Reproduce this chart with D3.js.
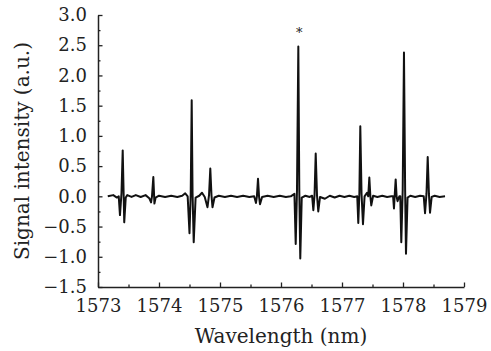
<!DOCTYPE html>
<html>
<head>
<meta charset="utf-8">
<script src="https://cdn.jsdelivr.net/npm/d3@7"></script>
<style>
  body { margin: 0; background: #fff; }
  svg text { font-family: "DejaVu Serif", serif; fill: #222; }
</style>
</head>
<body>
<div id="chart"></div>
<script>
// wavelength (nm) of each traced point
const wavelength = [
  1573.16, 1573.25, 1573.31, 1573.34, 1573.36, 1573.385, 1573.405, 1573.42, 1573.43, 1573.455,
  1573.48, 1573.55, 1573.62, 1573.70, 1573.78, 1573.84, 1573.87, 1573.885, 1573.907, 1573.925,
  1573.945, 1574.00, 1574.10, 1574.20, 1574.30, 1574.38, 1574.43, 1574.47, 1574.50, 1574.52,
  1574.536, 1574.55, 1574.569, 1574.60, 1574.66, 1574.705, 1574.75, 1574.795, 1574.82, 1574.841,
  1574.86, 1574.877, 1574.91, 1574.98, 1575.08, 1575.18, 1575.28, 1575.38, 1575.48, 1575.56,
  1575.59, 1575.605, 1575.623, 1575.64, 1575.656, 1575.69, 1575.78, 1575.88, 1575.98, 1576.08,
  1576.16, 1576.22, 1576.241, 1576.262, 1576.284, 1576.30, 1576.316, 1576.34, 1576.40, 1576.47,
  1576.51, 1576.53, 1576.55, 1576.569, 1576.59, 1576.611, 1576.64, 1576.72, 1576.80, 1576.88,
  1576.96, 1577.04, 1577.12, 1577.20, 1577.25, 1577.267, 1577.285, 1577.30, 1577.32, 1577.344,
  1577.37, 1577.41, 1577.43, 1577.448, 1577.465, 1577.48, 1577.51, 1577.58, 1577.66, 1577.74,
  1577.81, 1577.838, 1577.852, 1577.866, 1577.88, 1577.895, 1577.91, 1577.94, 1577.955, 1577.972,
  1577.995, 1578.016, 1578.035, 1578.049, 1578.075, 1578.12, 1578.20, 1578.28, 1578.34, 1578.361,
  1578.385, 1578.405, 1578.425, 1578.443, 1578.47, 1578.52, 1578.60, 1578.689
];
// signal intensity (a.u.) at each point
const intensity = [
  0.00, 0.02, -0.02, 0.00, -0.31, 0.05, 0.76, 0.05, -0.43, -0.02,
  0.02, -0.01, 0.02, -0.01, 0.02, -0.03, -0.10, 0.00, 0.32, -0.12,
  -0.02, 0.01, -0.01, 0.01, -0.01, 0.01, 0.05, 0.00, -0.61, 0.05,
  1.59, 0.05, -0.76, -0.02, 0.01, 0.06, -0.01, -0.18, 0.02, 0.46,
  0.02, -0.18, -0.02, 0.01, -0.01, 0.01, -0.01, 0.01, -0.01, 0.00,
  -0.11, 0.00, 0.29, 0.00, -0.13, -0.01, 0.01, -0.01, 0.01, -0.01,
  0.00, 0.04, -0.79, 0.10, 2.48, 0.10, -1.03, -0.02, 0.01, -0.01,
  0.01, -0.23, 0.02, 0.71, 0.02, -0.25, -0.01, -0.04, 0.01, -0.02,
  0.01, -0.01, 0.01, -0.01, 0.00, -0.44, 0.05, 1.16, 0.05, -0.46,
  0.00, 0.06, 0.00, 0.31, 0.00, -0.15, 0.01, -0.01, 0.01, -0.01,
  0.00, 0.00, -0.20, 0.05, 0.28, 0.00, -0.08, 0.00, 0.00, -0.76,
  0.10, 2.38, 0.10, -0.95, -0.02, 0.01, -0.01, 0.01, 0.00, -0.28,
  0.04, 0.65, 0.04, -0.27, -0.01, 0.01, -0.01, 0.00
];
const xTicks = [1573, 1574, 1575, 1576, 1577, 1578, 1579];
const xMinorTicks = [1573.5, 1574.5, 1575.5, 1576.5, 1577.5, 1578.5];
const yTicks = [-1.5, -1.0, -0.5, 0.0, 0.5, 1.0, 1.5, 2.0, 2.5, 3.0];
const yMinorTicks = [-1.25, -0.75, -0.25, 0.25, 0.75, 1.25, 1.75, 2.25, 2.75];
const markedPeak = 1576.284;

const data = wavelength.map((w, i) => ({ w: w, v: intensity[i] }));

const margin = { top: 15, right: 27, bottom: 64, left: 98 };
const width = 491 - margin.left - margin.right;
const height = 351 - margin.top - margin.bottom;

const svg = d3.select("#chart").append("svg")
    .attr("width", 491)
    .attr("height", 351)
    .append("g")
    .attr("transform", `translate(${margin.left},${margin.top})`);

const x = d3.scaleLinear().domain([1573, 1579]).range([0, width]);
const y = d3.scaleLinear().domain([-1.5, 3.0]).range([height, 0]);

// minor ticks
svg.append("g")
    .attr("transform", `translate(0,${height})`)
    .call(d3.axisBottom(x).tickValues(xMinorTicks).tickSize(-2.5).tickFormat(""))
    .call(g => g.select(".domain").remove());
svg.append("g")
    .call(d3.axisLeft(y).tickValues(yMinorTicks).tickSize(-2.5).tickFormat(""))
    .call(g => g.select(".domain").remove());

const xAxis = svg.append("g")
    .attr("transform", `translate(0,${height})`)
    .call(d3.axisBottom(x).tickValues(xTicks).tickSize(-4.5).tickSizeOuter(0).tickPadding(12).tickFormat(d3.format("d")));
xAxis.selectAll("text").style("font-size", "18px");

const yAxis = svg.append("g")
    .call(d3.axisLeft(y).tickValues(yTicks).tickSize(-4.5).tickSizeOuter(0).tickPadding(11).tickFormat(d3.format(".1f")));
yAxis.selectAll("text").style("font-size", "18px");

svg.selectAll(".domain").attr("stroke", "#222").attr("stroke-width", 1.5);
svg.selectAll(".tick line").attr("stroke", "#222").attr("stroke-width", 1.3);

const line = d3.line()
    .x(d => x(d.w))
    .y(d => y(d.v));

svg.append("path")
    .datum(data)
    .attr("fill", "none")
    .attr("stroke", "#111")
    .attr("stroke-width", 2)
    .attr("stroke-linejoin", "round")
    .attr("d", line);

// star over the strongest line
svg.append("text")
    .attr("x", x(markedPeak) + 1)
    .attr("y", 22)
    .attr("text-anchor", "middle")
    .style("font-size", "13px")
    .text("*");

// X-axis label
svg.append("text")
    .attr("x", width / 2)
    .attr("y", height + 56)
    .attr("text-anchor", "middle")
    .style("font-size", "20px")
    .text("Wavelength (nm)");

// Y-axis label
svg.append("text")
    .attr("transform", "rotate(-90)")
    .attr("x", -height / 2)
    .attr("y", -margin.left + 29)
    .attr("text-anchor", "middle")
    .style("font-size", "20px")
    .text("Signal intensity (a.u.)");
</script>
</body>
</html>
